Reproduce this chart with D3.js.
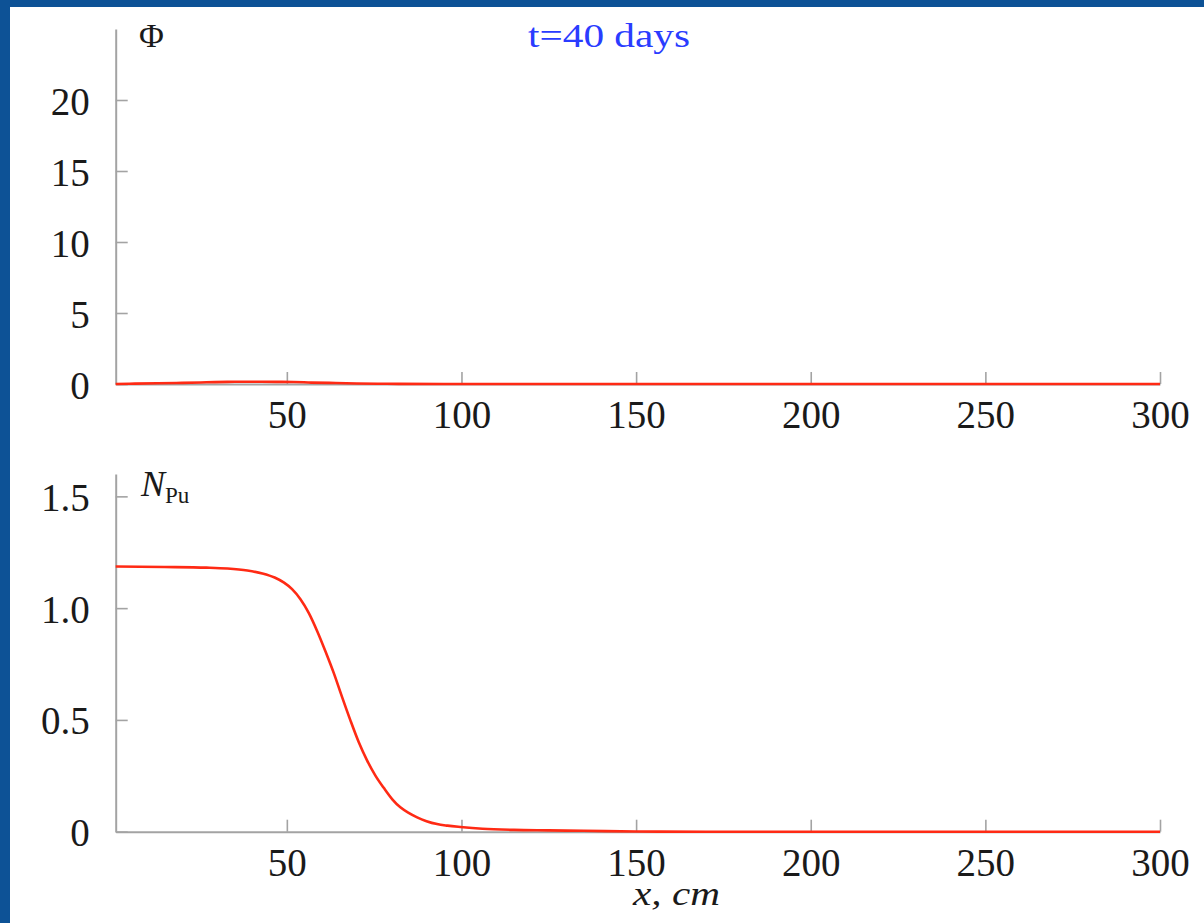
<!DOCTYPE html>
<html>
<head>
<meta charset="utf-8">
<script src="https://cdn.jsdelivr.net/npm/d3@7"></script>
<style>
  body { margin: 0; background: #0d5296; }
  svg { display: block; }
</style>
</head>
<body>
<script>
// x ticks shared by both panels
const xTicks = [50, 100, 150, 200, 250, 300];
const phiTicks = [0, 5, 10, 15, 20];
const npuTicks = [0, 0.5, 1.0, 1.5];
const npuTickLabels = ["0", "0.5", "1.0", "1.5"];

// flux (almost flat at this time step)
const phiX = [1, 5, 13, 20, 27, 33, 40, 47, 52, 57, 64, 70, 76, 82, 95, 300];
const phiY = [0.0, 0.02, 0.05, 0.08, 0.12, 0.15, 0.16, 0.15, 0.14, 0.1, 0.07, 0.04, 0.02, 0.01, 0, 0];

// Pu concentration
const npuX = [1, 15, 27, 33, 38.7, 43, 46.5, 49.2, 51.5, 53.9, 56.3, 58.7, 61.1, 63.5, 65.8, 68.2, 70.6, 73, 75.4, 77.8, 80.2, 82.5, 85, 87.3, 90, 93, 96, 99.7, 106, 115, 125, 135, 150, 170, 300];
const npuY = [1.186, 1.184, 1.181, 1.177, 1.168, 1.155, 1.137, 1.114, 1.085, 1.04, 0.978, 0.897, 0.805, 0.707, 0.603, 0.498, 0.4, 0.318, 0.25, 0.195, 0.145, 0.109, 0.083, 0.064, 0.047, 0.034, 0.027, 0.021, 0.013, 0.008, 0.006, 0.004, 0.001, 0, 0];

const W = 1204, H = 923;
const serif = '"Liberation Serif", "Times New Roman", serif';
const axisGrey = "#a3a3a3";
const red = "#ff2a14";

const svg = d3.select("body").append("svg")
    .attr("width", W)
    .attr("height", H);

svg.append("rect")
    .attr("x", 10).attr("y", 7)
    .attr("width", W - 10).attr("height", H - 7)
    .attr("fill", "#ffffff");

const x = d3.scaleLinear().domain([1, 300]).range([115.7, 1160]);
const yPhi = d3.scaleLinear().domain([0, 25]).range([384, 29]);
const yNpu = d3.scaleLinear().domain([0, 1.6]).range([831.7, 474]);

function drawPanel(y, yTicks, yFmt, xs, ys) {
    let g = svg.append("g");

    let gx = g.append("g")
        .attr("transform", "translate(0," + y.range()[0] + ")")
        .call(d3.axisBottom(x).tickValues(xTicks).tickSize(-12).tickSizeOuter(0));

    let gy = g.append("g")
        .attr("transform", "translate(" + x.range()[0] + ",0)")
        .call(d3.axisLeft(y).tickValues(yTicks).tickFormat(yFmt).tickSize(-12).tickSizeOuter(0).tickPadding(26));

    [gx, gy].forEach((a) => {
        a.select(".domain").attr("stroke", axisGrey).attr("stroke-width", 2);
        a.selectAll(".tick line").attr("stroke", axisGrey).attr("stroke-width", 1.6);
        a.selectAll("text")
            .attr("fill", "#1a1a1a")
            .style("font-family", serif)
            .style("font-size", "39px");
    });
    gx.selectAll("text").attr("y", 44).attr("dy", 0);
    gy.selectAll("text").attr("dy", "0.36em");

    let pts = xs.map((v, i) => [v, ys[i]]);
    g.append("path")
        .datum(pts)
        .attr("fill", "none")
        .attr("stroke", red)
        .attr("stroke-width", 2.6)
        .attr("d", d3.line()
            .x((d) => x(d[0]))
            .y((d) => y(d[1]))
            .curve(d3.curveMonotoneX));
    return g;
}

drawPanel(yPhi, phiTicks, (d) => String(d), phiX, phiY);
drawPanel(yNpu, npuTicks, (d, i) => npuTickLabels[i], npuX, npuY);

// labels
svg.append("text")
    .attr("x", 139).attr("y", 47)
    .style("font-family", serif)
    .style("font-size", "34px")
    .attr("fill", "#1a1a1a")
    .text("Φ");

let npu = svg.append("text")
    .attr("x", 141).attr("y", 496)
    .style("font-family", serif)
    .attr("fill", "#1a1a1a");
npu.append("tspan")
    .style("font-size", "36px")
    .style("font-style", "italic")
    .text("N");
npu.append("tspan")
    .attr("dy", 7)
    .style("font-size", "23px")
    .text("Pu");

svg.append("text")
    .attr("x", 609).attr("y", 47)
    .attr("text-anchor", "middle")
    .attr("textLength", 162)
    .attr("lengthAdjust", "spacingAndGlyphs")
    .style("font-family", serif)
    .style("font-size", "33px")
    .attr("fill", "#2a3cff")
    .text("t=40 days");

svg.append("text")
    .attr("x", 633).attr("y", 905)
    .attr("textLength", 87)
    .attr("lengthAdjust", "spacingAndGlyphs")
    .style("font-family", serif)
    .style("font-size", "33px")
    .style("font-style", "italic")
    .attr("fill", "#1a1a1a")
    .text("x,  cm");
</script>
</body>
</html>
